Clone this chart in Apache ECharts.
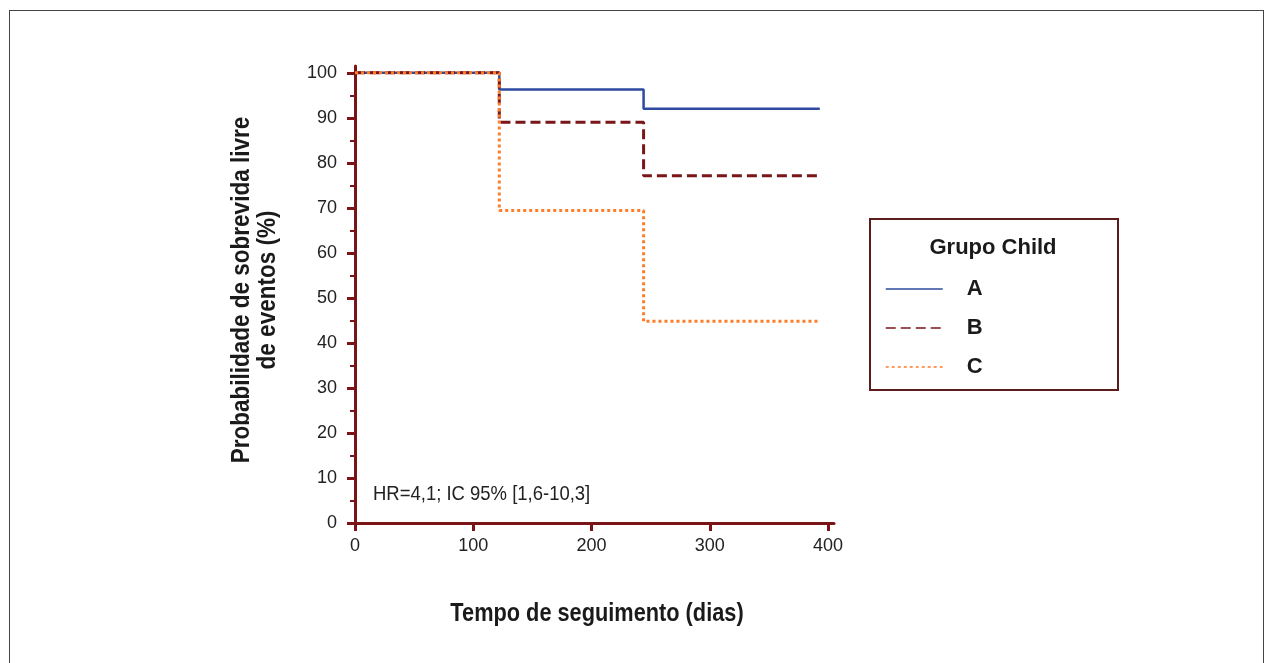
<!DOCTYPE html>
<html>
<head>
<meta charset="utf-8">
<script src="https://cdn.jsdelivr.net/npm/echarts@6/dist/echarts.min.js"></script>
<style>
  html, body { margin: 0; padding: 0; background: #ffffff; }
  #frame {
    position: absolute; left: 9px; top: 10px; width: 1253px; height: 700px;
    border-left: 1.5px solid #444; border-top: 1.5px solid #444; border-right: 1.5px solid #444;
  }
  #chart { position: absolute; left: 0; top: 0; width: 1265px; height: 663px; }
</style>
</head>
<body>
<div id="frame"></div>
<div id="chart"></div>
<script>
// Kaplan-Meier curves, one per Child group
const groupNames = ['A', 'B', 'C']
const daysA = [0, 122, 244, 393]
const survA = [100, 96.3, 92.0, 92.0]
const daysB = [0, 122, 244, 393]
const survB = [100, 89.0, 77.1, 77.1]
const daysC = [0, 122, 244, 392]
const survC = [100, 69.4, 44.8, 44.8]

const xTickValues = [0, 100, 200, 300, 400]
const yTickValues = [0, 10, 20, 30, 40, 50, 60, 70, 80, 90, 100]
const yMinorValues = [5, 15, 25, 35, 45, 55, 65, 75, 85, 95]

const axisColor = '#7b1416'
const font = '"Liberation Sans", Arial, sans-serif'

const toPairs = (xs, ys) => xs.map((x, i) => [x, ys[i]])

const chart = echarts.init(document.getElementById('chart'))

chart.setOption({
  animation: false,
  textStyle: { fontFamily: font },
  grid: { left: 355, right: 431, top: 66, bottom: 140 },
  xAxis: {
    type: 'value',
    min: 0,
    max: 405,
    splitLine: { show: false },
    axisLine: { lineStyle: { color: axisColor, width: 3 } },
    axisTick: { customValues: xTickValues, length: 8, lineStyle: { color: axisColor, width: 3 } },
    axisLabel: { customValues: xTickValues, margin: 14, color: '#222', fontSize: 18, fontFamily: font }
  },
  yAxis: [
    {
      type: 'value',
      min: 0,
      max: 101.5,
      splitLine: { show: false },
      axisLine: { show: true, lineStyle: { color: axisColor, width: 3 } },
      axisTick: { show: true, customValues: yTickValues, length: 8, lineStyle: { color: axisColor, width: 3 } },
      axisLabel: { customValues: yTickValues, margin: 18, color: '#222', fontSize: 18, fontFamily: font }
    },
    {
      type: 'value',
      position: 'left',
      min: 0,
      max: 101.5,
      splitLine: { show: false },
      axisLine: { show: false },
      axisTick: { show: true, customValues: yMinorValues, length: 5, lineStyle: { color: axisColor, width: 2 } },
      axisLabel: { show: false }
    }
  ],
  legend: {
    orient: 'vertical',
    left: 880,
    top: 273,
    itemWidth: 57,
    itemHeight: 14,
    itemGap: 17,
    lineStyle: { width: 1.5 },
    itemStyle: { opacity: 0 },
    textStyle: { fontSize: 22, fontWeight: 'bold', color: '#1a1a1a', fontFamily: font, padding: [0, 0, 0, 19] },
    data: groupNames
  },
  graphic: [
    {
      type: 'rect',
      shape: { x: 870, y: 219, width: 248, height: 171 },
      style: { fill: 'none', stroke: '#5a1c1c', lineWidth: 2 }
    },
    {
      type: 'text',
      x: 993, y: 248,
      style: { text: 'Grupo Child', font: 'bold 22px ' + font, fill: '#1a1a1a', textAlign: 'center', textVerticalAlign: 'middle' }
    },
    {
      type: 'text',
      x: 373, y: 494,
      scaleX: 0.88,
      style: { text: 'HR=4,1; IC 95% [1,6-10,3]', font: '21px ' + font, fill: '#222', textAlign: 'left', textVerticalAlign: 'middle' }
    },
    {
      type: 'text',
      x: 255, y: 290,
      rotation: Math.PI / 2,
      scaleX: 0.9,
      style: {
        text: 'Probabilidade de sobrevida livre\nde eventos (%)',
        font: 'bold 25px ' + font, lineHeight: 26, fill: '#1a1a1a',
        textAlign: 'center', textVerticalAlign: 'middle'
      }
    },
    {
      type: 'text',
      x: 597, y: 614,
      scaleX: 0.87,
      style: { text: 'Tempo de seguimento (dias)', font: 'bold 25px ' + font, fill: '#1a1a1a', textAlign: 'center', textVerticalAlign: 'middle' }
    }
  ],
  series: [
    {
      name: 'A',
      type: 'line',
      step: 'end',
      symbol: 'none',
      z: 3,
      lineStyle: { color: '#2e4a9e', width: 2.5, type: 'solid' },
      itemStyle: { color: '#2e4a9e' },
      data: toPairs(daysA, survA)
    },
    {
      name: 'B',
      type: 'line',
      step: 'end',
      symbol: 'none',
      z: 4,
      lineStyle: { color: '#7a1518', width: 3, type: [10, 5] },
      itemStyle: { color: '#7a1518' },
      data: toPairs(daysB, survB)
    },
    {
      name: 'C',
      type: 'line',
      step: 'end',
      symbol: 'none',
      z: 5,
      lineStyle: { color: '#ff7c28', width: 3, type: [3, 3] },
      itemStyle: { color: '#ff7c28' },
      data: toPairs(daysC, survC)
    }
  ]
})
</script>
</body>
</html>
